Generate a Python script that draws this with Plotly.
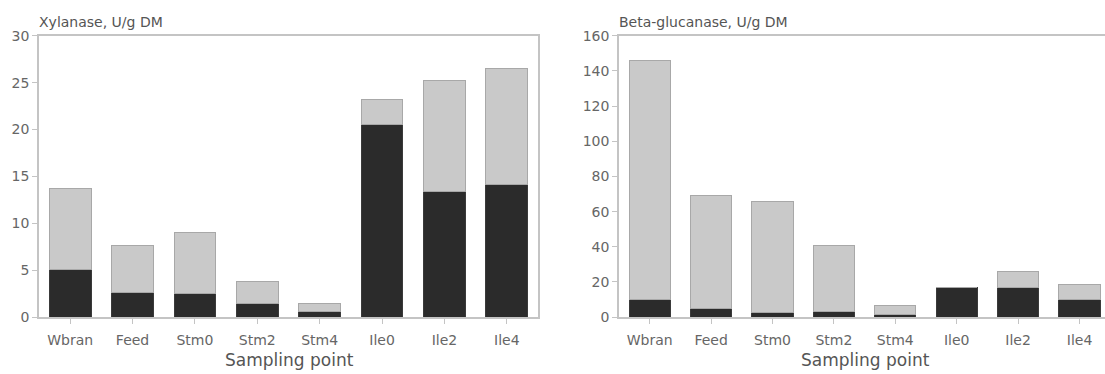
import plotly.graph_objects as go

categories = ["Wbran", "Feed", "Stm0", "Stm2", "Stm4", "Ile0", "Ile2", "Ile4"]

# Xylanase, U/g DM (dark = lower segment, light = upper segment)
xyl_dark = [5.1, 2.6, 2.55, 1.5, 0.6, 20.5, 13.4, 14.1]
xyl_light = [8.6, 5.0, 6.45, 2.3, 0.9, 2.7, 11.8, 12.4]

# Beta-glucanase, U/g DM
glu_dark = [10.3, 5.0, 2.5, 3.4, 1.8, 16.7, 16.6, 9.9]
glu_light = [135.9, 64.4, 63.1, 37.1, 4.7, 0.0, 9.3, 8.4]

xyl_ticks = [0, 5, 10, 15, 20, 25, 30]
glu_ticks = [0, 20, 40, 60, 80, 100, 120, 140, 160]

W, H = 1105, 374
DARK = "#2b2b2b"
LIGHT = "#c9c9c9"
AXC = "#c4c4c4"
TXT = "#666666"
FONT = "DejaVu Sans"

fig = go.Figure()
bw = 0.67
fig.add_trace(go.Bar(x=categories, y=xyl_dark, width=bw, marker=dict(color=DARK, line=dict(color="#3a3a3a", width=1)),
                     xaxis="x", yaxis="y", showlegend=False))
fig.add_trace(go.Bar(x=categories, y=xyl_light, width=bw, marker=dict(color=LIGHT, line=dict(color="#a8a8a8", width=1)),
                     xaxis="x", yaxis="y", showlegend=False))
fig.add_trace(go.Bar(x=categories, y=glu_dark, width=bw, marker=dict(color=DARK, line=dict(color="#3a3a3a", width=1)),
                     xaxis="x2", yaxis="y2", showlegend=False))
fig.add_trace(go.Bar(x=categories, y=glu_light, width=bw, marker=dict(color=LIGHT, line=dict(color="#a8a8a8", width=1)),
                     xaxis="x2", yaxis="y2", showlegend=False))

ydom = [(H - 323) / H, (H - 29) / H]
ax_common = dict(showline=True, linecolor=AXC, linewidth=1.5, ticks="outside",
                 tickcolor=AXC, ticklen=5, showgrid=False, zeroline=False,
                 tickfont=dict(family=FONT, size=14, color=TXT))

fig.update_layout(
    width=W, height=H, margin=dict(l=0, r=0, t=0, b=0),
    paper_bgcolor="white", plot_bgcolor="white", barmode="stack", bargap=0.33,
    xaxis=dict(domain=[39 / W, 538 / W], range=[-0.5, 7.5], type="category", anchor="y", mirror=True,
               ticklabelstandoff=4, **ax_common),
    yaxis=dict(domain=ydom, range=[0, 30], tickvals=xyl_ticks, anchor="x", mirror=True, **ax_common),
    xaxis2=dict(domain=[619 / W, 1.0], range=[-0.5, 7.415], type="category", anchor="y2", mirror=True,
                ticklabelstandoff=4, **ax_common),
    yaxis2=dict(domain=ydom, range=[0, 160], tickvals=glu_ticks, anchor="x2", mirror=False, **ax_common),
    annotations=[
        dict(text="Xylanase, U/g DM", xref="paper", yref="paper", x=37 / W, y=(H - 15) / H,
             xanchor="left", yanchor="middle", showarrow=False, font=dict(family=FONT, size=14, color="#555")),
        dict(text="Beta-glucanase, U/g DM", xref="paper", yref="paper", x=617 / W, y=(H - 15) / H,
             xanchor="left", yanchor="middle", showarrow=False, font=dict(family=FONT, size=14, color="#555")),
        dict(text="Sampling point", xref="paper", yref="paper", x=289 / W, y=0,
             xanchor="center", yanchor="bottom", yshift=-6, showarrow=False,
             font=dict(family=FONT, size=17, color="#555")),
        dict(text="Sampling point", xref="paper", yref="paper", x=865 / W, y=0,
             xanchor="center", yanchor="bottom", yshift=-6, showarrow=False,
             font=dict(family=FONT, size=17, color="#555")),
    ],
)

fig.write_html("out.html")
